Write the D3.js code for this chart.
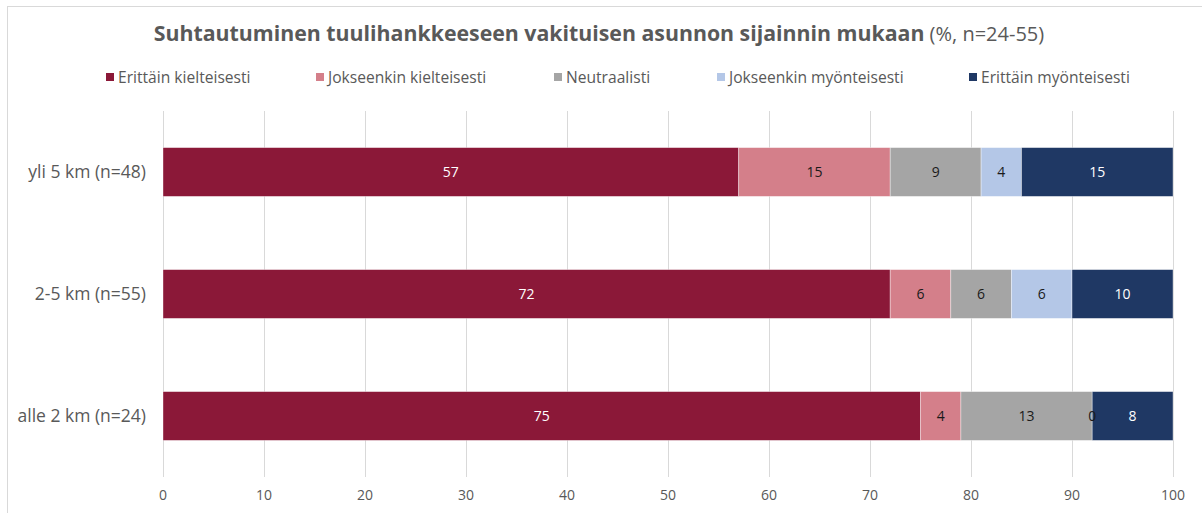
<!DOCTYPE html>
<html>
<head>
<meta charset="utf-8">
<script src="https://cdn.jsdelivr.net/npm/d3@7"></script>
<style>
  body { margin: 0; background: #fff; font-family: "Open Sans", "Noto Sans", sans-serif; }
  svg text { fill: #595959; }
</style>
</head>
<body>
<svg id="chart" width="1202" height="513"></svg>
<script>
// categories (top to bottom) and stacked shares (%)
const groups = ["yli 5 km (n=48)", "2-5 km (n=55)", "alle 2 km (n=24)"];
const seriesNames = ["Erittäin kielteisesti", "Jokseenkin kielteisesti", "Neutraalisti",
                     "Jokseenkin myönteisesti", "Erittäin myönteisesti"];
const erittainKiel = [57, 72, 75];
const jokseenKiel  = [15, 6, 4];
const neutraali    = [9, 6, 13];
const jokseenMyon  = [4, 6, 0];
const erittainMyon = [15, 10, 8];
const ticks = [0, 10, 20, 30, 40, 50, 60, 70, 80, 90, 100];

const colors    = ["#8B1838", "#D47F8A", "#A5A5A5", "#B4C7E7", "#1F3864"];
const textColor = ["#ffffff", "#1a1a1a", "#1a1a1a", "#1a1a1a", "#ffffff"];

const rows = groups.map((g, i) => ({
  group: g,
  [seriesNames[0]]: erittainKiel[i], [seriesNames[1]]: jokseenKiel[i],
  [seriesNames[2]]: neutraali[i],    [seriesNames[3]]: jokseenMyon[i],
  [seriesNames[4]]: erittainMyon[i]
}));
const stacked = d3.stack().keys(seriesNames)(rows);

const svg = d3.select("#chart");

// outer chart border
svg.append("rect").attr("x", 7.5).attr("y", 6.5).attr("width", 1200).attr("height", 520)
   .attr("fill", "none").attr("stroke", "#d9d9d9");

const x = d3.scaleLinear().domain([0, 100]).range([163, 1173]);
const y = d3.scaleBand().domain(groups).range([111, 477]).paddingInner(0.6).paddingOuter(0.3);

// title
const title = svg.append("text").attr("x", 599).attr("y", 41).attr("text-anchor", "middle");
title.append("tspan").attr("font-size", 21.3).attr("font-weight", 700)
     .text("Suhtautuminen tuulihankkeeseen vakituisen asunnon sijainnin mukaan");
title.append("tspan").attr("font-size", 20).text(" (%, n=24-55)");

// legend
const legendX = [106, 316, 554, 717, 969];
const lg = svg.append("g").selectAll("g").data(seriesNames).join("g")
   .attr("transform", (d, i) => `translate(${legendX[i]},77)`);
lg.append("rect").attr("x", 0).attr("y", -4).attr("width", 8).attr("height", 8)
  .attr("fill", (d, i) => colors[i]);
lg.append("text").attr("x", 12).attr("y", 5.5).attr("font-size", 15.6).text(d => d);

// gridlines
svg.append("g").selectAll("line").data(ticks).join("line")
   .attr("x1", d => x(d) + 0.5).attr("x2", d => x(d) + 0.5)
   .attr("y1", 111).attr("y2", 477)
   .attr("stroke", "#d9d9d9");

// x tick labels
svg.append("g").selectAll("text").data(ticks).join("text")
   .attr("x", d => x(d)).attr("y", 500).attr("text-anchor", "middle")
   .attr("font-size", 14).text(d => d);

// category labels
svg.append("g").selectAll("text").data(groups).join("text")
   .attr("x", 146).attr("y", d => y(d) + y.bandwidth() / 2 + 6)
   .attr("text-anchor", "end").attr("font-size", 17.5).text(d => d);

// bars
const layers = svg.append("g").selectAll("g").data(stacked).join("g")
   .attr("fill", (d, i) => colors[i]);
layers.selectAll("rect").data(d => d).join("rect")
   .attr("x", d => x(d[0])).attr("width", d => x(d[1]) - x(d[0]))
   .attr("y", d => y(d.data.group)).attr("height", y.bandwidth())
   .attr("stroke", "#ffffff").attr("stroke-opacity", 0.5).attr("stroke-width", 0.75);

// value labels
stacked.forEach((layer, li) => {
  svg.append("g").selectAll("text").data(layer).join("text")
     .attr("x", d => (x(d[0]) + x(d[1])) / 2)
     .attr("y", d => y(d.data.group) + y.bandwidth() / 2 + 5)
     .attr("text-anchor", "middle").attr("font-size", 14)
     .style("fill", d => (d[1] - d[0]) === 0 ? "#1a1a1a" : textColor[li])
     .text(d => d[1] - d[0]);
});
</script>
</body>
</html>
